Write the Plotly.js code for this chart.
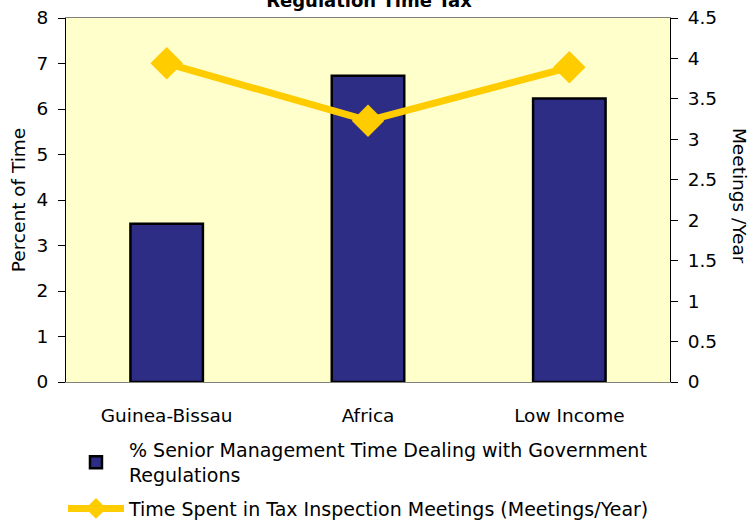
<!DOCTYPE html>
<html><head><meta charset="utf-8">
<script src="https://cdn.plot.ly/plotly-3.0.1.min.js"></script>
<style>body{margin:0;background:#fff}#c{width:750px;height:521px}</style>
</head><body><div id="c"></div>
<script>
const categories = ["Guinea-Bissau", "Africa", "Low Income"];
const seniorMgmtTime = [3.48, 6.73, 6.23];
const taxMeetings = [3.94, 3.23, 3.89];
const leftTicks = [0,1,2,3,4,5,6,7,8];
const rightTicks = [0,0.5,1,1.5,2,2.5,3,3.5,4,4.5];
const seriesNames = ["% Senior Management Time Dealing with Government<br>Regulations", "Time Spent in Tax Inspection Meetings (Meetings/Year)"];

const font = "Tahoma, 'DejaVu Sans', sans-serif";
const data = [
  {type:"bar", x:categories, y:seniorMgmtTime, name:seriesNames[0], width:0.36, legendgroup:"g1",
   marker:{color:"#2d2d86", line:{color:"#000", width:2.5}}, yaxis:"y"},
  {type:"scatter", mode:"lines+markers", x:categories, y:taxMeetings, name:seriesNames[1], yaxis:"y2", legendgroup:"g2",
   line:{color:"#ffcc00", width:7}, marker:{symbol:"diamond", size:25, color:"#ffcc00"}}
];
const layout = {
  width:750, height:521,
  margin:{l:66, r:80, t:18, b:139, autoexpand:false},
  paper_bgcolor:"#fff", plot_bgcolor:"#ffffcc",
  font:{family:font, size:18, color:"#000"},
  title:{text:"<b>Regulation Time Tax</b>", x:0.492, xanchor:"center", y:0.998, yanchor:"middle", font:{size:18}},
  showlegend:true,
  legend:{orientation:"v", traceorder:"grouped", x:-0.005, xanchor:"left", y:-0.135, yanchor:"top", font:{size:19}, bgcolor:"rgba(0,0,0,0)", tracegroupgap:6, itemwidth:56},
  xaxis:{showline:true, linecolor:"#808080", linewidth:1, mirror:true, ticks:"", showgrid:false, tickfont:{size:18.5}, ticklabelstandoff:17, automargin:false},
  yaxis:{range:[0,8], tickvals:leftTicks, showgrid:false, showline:true, linecolor:"#000", linewidth:1, ticks:"outside", ticklen:7, tickcolor:"#000", zeroline:false,
    tickfont:{size:18.5}, ticklabelstandoff:6,
    title:{text:"Percent of Time", font:{size:18.5}, standoff:6}, automargin:false},
  yaxis2:{range:[0,4.5], tickvals:rightTicks, overlaying:"y", side:"right", showgrid:false, showline:true, linecolor:"#000", linewidth:1, ticks:"outside", ticklen:7, tickcolor:"#000", zeroline:false,
    tickfont:{size:18.5}, ticklabelstandoff:6, automargin:false},
  annotations:[{text:"Meetings /Year", textangle:90, xref:"paper", yref:"paper", x:1.115, y:0.51, xanchor:"center", yanchor:"middle", showarrow:false, font:{size:18.5}}]
};
Plotly.newPlot("c", data, layout, {displayModeBar:false});
</script></body></html>
